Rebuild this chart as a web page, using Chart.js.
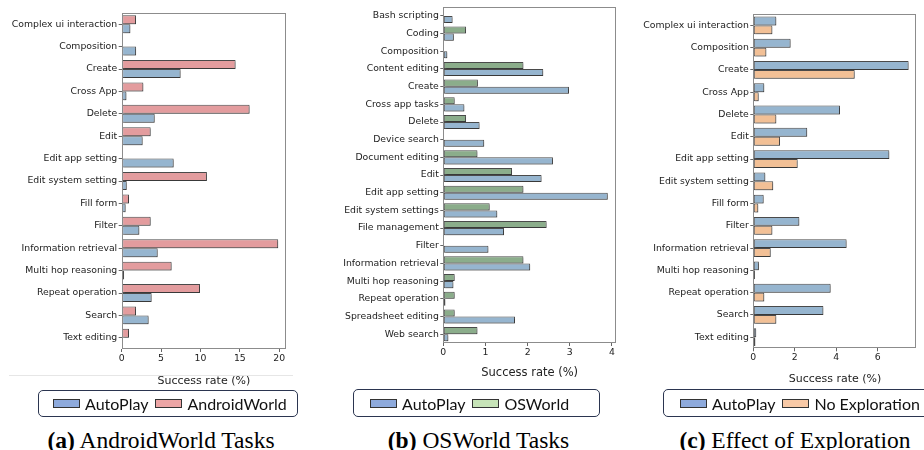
<!DOCTYPE html>
<html><head><meta charset="utf-8">
<script src="https://cdn.jsdelivr.net/npm/chart.js@4.4.0/dist/chart.umd.min.js"></script>
<style>
html,body{margin:0;padding:0;background:#fff;}
body{width:924px;height:450px;position:relative;overflow:hidden;}
.box{position:absolute;top:0;height:395px;}
.leg{position:absolute;box-sizing:border-box;border:1px solid #2b3550;border-radius:5px;display:flex;align-items:center;font-family:Lato,sans-serif;font-size:16px;color:#111;white-space:nowrap;}
.patch{display:inline-block;width:27px;height:9px;border:1px solid #333;box-sizing:border-box;margin-right:5px;}
.lt{margin-right:7px;}
.cap{position:absolute;width:400px;text-align:center;font-family:"Liberation Serif",serif;font-size:23.5px;line-height:23.5px;color:#000;white-space:nowrap;}
.hr{position:absolute;left:9px;top:375px;width:284px;height:1px;background:#e6e6e6;}
</style></head><body>
<div class="box" style="left:0;width:300px"><canvas id="ca"></canvas></div>
<div class="box" style="left:300px;width:320px"><canvas id="cb"></canvas></div>
<div class="box" style="left:620px;width:304px"><canvas id="cc"></canvas></div>
<div class="hr"></div>

<div class="leg" style="left:38px;top:390px;width:260px;height:27px;padding-left:14px">
  <span class="patch" style="background:#8eaadc"></span><span class="lt">AutoPlay</span>
  <span class="patch" style="background:#eca5a5"></span><span>AndroidWorld</span>
</div>
<div class="leg" style="left:353px;top:389px;width:247px;height:28px;padding-left:16px">
  <span class="patch" style="background:#8eaadc"></span><span class="lt">AutoPlay</span>
  <span class="patch" style="background:#c7e4b8"></span><span>OSWorld</span>
</div>
<div class="leg" style="left:663px;top:389px;width:290px;height:28px;padding-left:16px">
  <span class="patch" style="background:#8eaadc"></span><span class="lt">AutoPlay</span>
  <span class="patch" style="background:#f8c9a6"></span><span>No Exploration</span>
</div>

<div class="cap" style="left:-39px;top:428.5px"><b>(a)</b> AndroidWorld Tasks</div>
<div class="cap" style="left:278.5px;top:428.5px"><b>(b)</b> OSWorld Tasks</div>
<div class="cap" style="left:595px;top:428.5px"><b>(c)</b> Effect of Exploration</div>

<script>
// ---- Data ----
const androidCategories = ['Complex ui interaction','Composition','Create','Cross App','Delete','Edit','Edit app setting','Edit system setting','Fill form','Filter','Information retrieval','Multi hop reasoning','Repeat operation','Search','Text editing'];
const androidAutoPlay = [1.10, 1.83, 7.48, 0.60, 4.19, 2.66, 6.60, 0.64, 0.50, 2.24, 4.57, 0.30, 3.80, 3.42, 0.17];
const androidWorld    = [1.82, 0, 14.46, 2.75, 16.24, 3.68, 0, 10.82, 0.93, 3.68, 19.87, 6.34, 9.94, 1.82, 0.93];
const androidTicks = [0, 5, 10, 15, 20];

const osCategories = ['Bash scripting','Coding','Composition','Content editing','Create','Cross app tasks','Delete','Device search','Document editing','Edit','Edit app setting','Edit system settings','File management','Filter','Information retrieval','Multi hop reasoning','Repeat operation','Spreadsheet editing','Web search'];
const osAutoPlay = [0.22, 0.25, 0.095, 2.37, 2.98, 0.50, 0.86, 0.97, 2.60, 2.33, 3.90, 1.28, 1.44, 1.07, 2.06, 0.24, 0.05, 1.70, 0.12];
const osWorld    = [0, 0.54, 0, 1.90, 0.82, 0.27, 0.54, 0, 0.81, 1.63, 1.90, 1.10, 2.45, 0, 1.90, 0.27, 0.27, 0.27, 0.81];
const osTicks = [0, 1, 2, 3, 4];

const exploreCategories = ['Complex ui interaction','Composition','Create','Cross App','Delete','Edit','Edit app setting','Edit system setting','Fill form','Filter','Information retrieval','Multi hop reasoning','Repeat operation','Search','Text editing'];
const exploreAutoPlay = [1.11, 1.80, 7.49, 0.53, 4.18, 2.60, 6.56, 0.58, 0.50, 2.22, 4.50, 0.27, 3.73, 3.38, 0.14];
const noExploration   = [0.92, 0.63, 4.89, 0.26, 1.11, 1.29, 2.14, 0.96, 0.24, 0.92, 0.84, 0.08, 0.53, 1.11, 0.10];
const exploreTicks = [0, 2, 4, 6];

// ---- Styling ----
const COL = {blue:'#96b5cf', red:'#e39c9e', green:'#8bad8b', orange:'#f2c096', edge:'#4a4a4a'};

const shadowPlugin = {
  id:'shadow',
  beforeDatasetsDraw(chart){ const c=chart.ctx; c.save(); c.shadowColor='rgba(0,0,0,0.22)'; c.shadowOffsetX=1.5; c.shadowOffsetY=1.5; c.shadowBlur=0; },
  afterDatasetsDraw(chart){ chart.ctx.restore(); }
};
const framePlugin = {
  id:'frame',
  afterDraw(chart){
    const a=chart.chartArea, c=chart.ctx;
    c.save(); c.strokeStyle='#8c8c8c'; c.lineWidth=1;
    c.strokeRect(Math.round(a.left)+0.5, Math.round(a.top)+0.5, Math.round(a.right-a.left)-1, Math.round(a.bottom-a.top)-1);
    c.restore();
  }
};

function makeChart(id, cats, ds, cfg){
  return new Chart(document.getElementById(id), {
    type:'bar',
    data:{ labels:cats, datasets: ds.map(d=>({label:d.label, data:d.data, backgroundColor:d.color, borderColor:COL.edge, borderWidth:1, borderSkipped:false, categoryPercentage:0.8, barPercentage:1.0})) },
    options:{
      indexAxis:'y', responsive:true, maintainAspectRatio:false, animation:false,
      layout:{padding:{top:cfg.top, right:cfg.right, left:0, bottom:0}},
      plugins:{legend:{display:false}, tooltip:{enabled:false}},
      scales:{
        x:{ type:'linear', min:0, max:cfg.max,
            afterBuildTicks:(s)=>{ s.ticks = cfg.ticks.map(v=>({value:v})); },
            afterFit:(s)=>{ s.height = cfg.xh; },
            ticks:{ font:{family:'DejaVu Sans', size:9.3}, color:'#222', padding:1, maxRotation:0 },
            grid:{ drawOnChartArea:false, drawTicks:true, tickLength:3, tickColor:'#666' },
            border:{ display:false },
            title:{ display:true, text:'Success rate (%)', font:{family:'DejaVu Sans', size:cfg.tsize}, color:'#222', padding:{top:0,bottom:cfg.tpad} }
        },
        y:{ type:'category', offset:true,
            afterFit:(s)=>{ s.width = cfg.yw; },
            ticks:{ font:{family:'DejaVu Sans', size:9.3}, color:'#222', padding:1.5, autoSkip:false },
            grid:{ drawOnChartArea:false, drawTicks:true, tickLength:3, tickColor:'#666', offset:false },
            border:{ display:false }
        }
      }
    },
    plugins:[shadowPlugin, framePlugin]
  });
}

makeChart('ca', androidCategories,
  [{label:'AndroidWorld', data:androidWorld, color:COL.red},{label:'AutoPlay', data:androidAutoPlay, color:COL.blue}],
  {top:13, right:14, yw:121.7, xh:46, max:20.86, ticks:androidTicks, tsize:11, tpad:7.4});
makeChart('cb', osCategories,
  [{label:'OSWorld', data:osWorld, color:COL.green},{label:'AutoPlay', data:osAutoPlay, color:COL.blue}],
  {top:5.3, right:4, yw:143.3, xh:52, max:4.095, ticks:osTicks, tsize:11.5, tpad:15.1});
makeChart('cc', exploreCategories,
  [{label:'AutoPlay', data:exploreAutoPlay, color:COL.blue},{label:'No Exploration', data:noExploration, color:COL.orange}],
  {top:14.3, right:7.3, yw:133.3, xh:46.7, max:7.88, ticks:exploreTicks, tsize:11, tpad:9.4});
</script>
</body></html>
